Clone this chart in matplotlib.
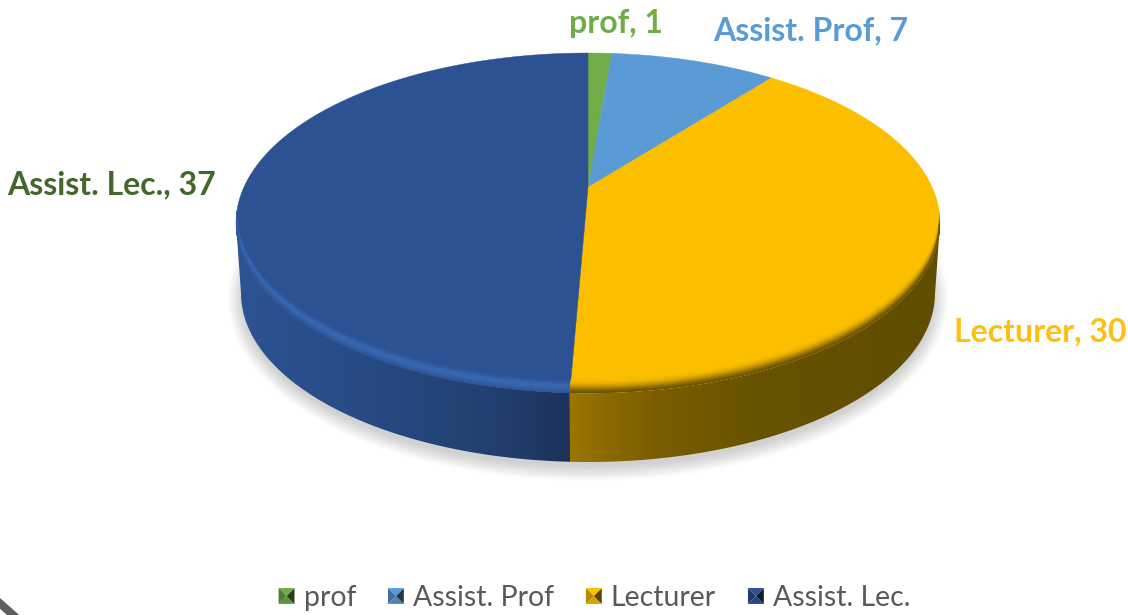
import numpy as np
import matplotlib
matplotlib.use("Agg")
import matplotlib.pyplot as plt
from matplotlib.colors import to_rgb
from matplotlib.patches import Polygon, Patch, Ellipse
from matplotlib.legend_handler import HandlerBase

categories = ["prof", "Assist. Prof", "Lecturer", "Assist. Lec."]
values = [1, 7, 30, 37]
colors = ["#70ad47", "#5b9bd5", "#fbbf00", "#2c5294"]
label_colors = ["#70ad47", "#5b9bd5", "#fdc010", "#43682b"]
label_pos = [(616, 23), (811, 31), (1040, 332), (112, 185)]

plt.rcParams["font.family"] = ["Lato", "DejaVu Sans"]
fig = plt.figure(figsize=(11.28, 6.15), dpi=100)
ax = fig.add_axes([0, 0, 1, 1])
ax.axis("off")

# geometry of the tilted pie, in image pixels
CX, TOP_CY, TOP_RX, TOP_RY = 588, 223, 352, 170
BOT_CY, BOT_RX, BOT_RY = 293, 347, 169
TILT = 0.21


def project(theta):
    """Perspective map from pie angle (clockwise from 12 o'clock) to the unit disc."""
    x, y = np.sin(theta), np.cos(theta)
    d = 1 + TILT * y
    return x * np.sqrt(1 - TILT ** 2) / d, (y + TILT) / d


def rim(theta, cy, rx, ry, shift=0.0):
    u, v = project(theta)
    return np.column_stack([CX + rx * u, cy - ry * v - shift])


def gradient(xs, stops, clip, zorder):
    pos = [s[0] for s in stops]
    rgb = np.array([to_rgb(s[1]) for s in stops])
    grid = np.linspace(xs.min(), xs.max(), 300)
    img = np.stack([np.interp(grid, pos, rgb[:, i]) for i in range(3)], axis=-1)[None, :, :]
    im = ax.imshow(img, extent=[grid[0], grid[-1], 470, 200], aspect="auto", zorder=zorder,
                   interpolation="bilinear")
    patch = Polygon(clip, closed=True, transform=ax.transData, fc="none", ec="none")
    ax.add_patch(patch)
    im.set_clip_path(patch)


# soft shadow
for k in range(16, 0, -1):
    ax.add_patch(Ellipse((CX, BOT_CY + 6), 2 * (BOT_RX + k - 3), 2 * (BOT_RY + k - 3),
                         fc="#808080", ec="none", alpha=0.022, zorder=1))

side_stops = {
    2: [(571, "#9c7500"), (610, "#8a6800"), (660, "#7a5c00"), (760, "#675200"), (940, "#614d00")],
    3: [(237, "#2c5393"), (330, "#294d89"), (450, "#244477"), (520, "#203b69"), (571, "#1b3159")],
}
bevel_stops = {
    2: ["#6b5500", "#8a6a00", "#b88c00", "#dca700", "#f3b800", "#fbbf00"],
    3: ["#2f5797", "#3461a8", "#3867b2", "#3765ae", "#3059a0", "#2c5294"],
}

edges = np.cumsum([0] + values) / sum(values) * 2 * np.pi
apex = np.array([[CX, TOP_CY - TOP_RY * TILT]])

for i, (start, end) in enumerate(zip(edges[:-1], edges[1:])):
    th = np.linspace(start, end, 300)
    top = np.vstack([apex, rim(th, TOP_CY, TOP_RX, TOP_RY)])
    face = Polygon(top, closed=True, fc=colors[i], ec=colors[i], lw=0.3, zorder=4)
    ax.add_patch(face)

    # side wall (only the front half of the rim is visible)
    _, v = project(th)
    vis = th[v <= 0]
    if vis.size:
        upper = rim(vis, TOP_CY, TOP_RX, TOP_RY)
        lower = rim(vis, BOT_CY, BOT_RX, BOT_RY)
        wall = np.vstack([upper, lower[::-1]])
        gradient(wall[:, 0], side_stops[i], wall, 3)

        # bevel along the rim, only on the front half
        rgb = np.array([to_rgb(c) for c in bevel_stops[i]])
        offs = np.linspace(0, 13, 27)
        t = np.linspace(0, len(rgb) - 1, offs.size)
        for off, tt in zip(offs[::-1], t[::-1]):
            col = [np.interp(tt, np.arange(len(rgb)), rgb[:, c]) for c in range(3)]
            line, = ax.plot(*rim(vis, TOP_CY, TOP_RX, TOP_RY, shift=off).T, color=col,
                            lw=1.3, zorder=5, solid_capstyle="butt")
            line.set_clip_path(face)

    # data label
    ax.text(*label_pos[i], f"{categories[i]}, {values[i]}", color=label_colors[i],
            fontsize=23, fontweight="bold", ha="center", va="center", zorder=6)

# corner remnant
ax.plot([-5, 20], [599, 621], color="#5f5f5f", lw=5.8, zorder=2)

ax.set_xlim(0, 1128)
ax.set_ylim(615, 0)


class PyramidHandler(HandlerBase):
    def create_artists(self, legend, orig, xd, yd, w, h, fs, trans):
        c = np.array(to_rgb(orig.get_facecolor()))
        s = min(w, h)
        x0, y0 = xd * -1 + (w - s) / 2, -yd + (h - s) / 2
        m = (x0 + s / 2, y0 + s / 2)
        a, b, e, f = (x0, y0), (x0 + s, y0), (x0 + s, y0 + s), (x0, y0 + s)
        out = []
        for pts, k in [((a, b, m), 0.85), ((b, e, m), 0.35), ((e, f, m), 1.0), ((f, a, m), 0.72)]:
            out.append(Polygon(pts, closed=True, fc=np.clip(c * k, 0, 1), ec="none", transform=trans))
        return out


handles = [Patch(facecolor=c) for c in colors]
leg = ax.legend(handles, categories, handler_map={Patch: PyramidHandler()}, loc="center",
                bbox_to_anchor=(594.5 / 1128, 1 - 598 / 615), bbox_transform=fig.transFigure,
                ncol=4, frameon=False, fontsize=20.4, handlelength=0.56, handleheight=0.56,
                handletextpad=0.32, columnspacing=1.13, labelcolor="#595959", borderpad=0)

fig.savefig("out.png", dpi=100, facecolor="white")
